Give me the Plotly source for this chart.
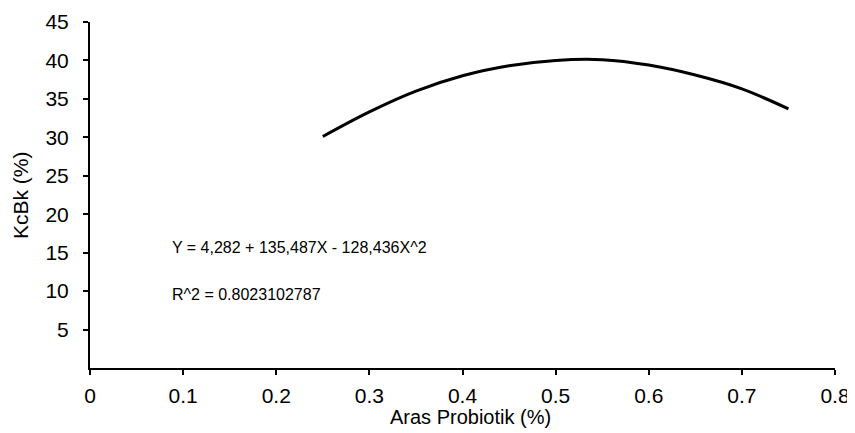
import plotly.graph_objects as go

# Values (fitted quadratic curve)
aras = [0.25, 0.30, 0.35, 0.40, 0.45, 0.50, 0.55, 0.60, 0.65, 0.70, 0.75]
kcbk = [30.1, 33.3, 36.0, 38.0, 39.3, 40.0, 40.1, 39.4, 38.1, 36.3, 33.7]

x_ticks = [0, 0.1, 0.2, 0.3, 0.4, 0.5, 0.6, 0.7, 0.8]
x_tick_labels = ["0", "0.1", "0.2", "0.3", "0.4", "0.5", "0.6", "0.7", "0.8"]
y_ticks = [5, 10, 15, 20, 25, 30, 35, 40, 45]
y_tick_labels = ["5", "10", "15", "20", "25", "30", "35", "40", "45"]

x_title = "Aras Probiotik (%)"
y_title = "KcBk (%)"
eq_text = "Y = 4,282 + 135,487X - 128,436X^2"
r2_text = "R^2 = 0.8023102787"

font_family = "Liberation Sans, Arial, sans-serif"

fig = go.Figure()
fig.add_trace(go.Scatter(
    x=aras, y=kcbk, mode="lines",
    line=dict(color="black", width=3, shape="spline"),
    showlegend=False, hoverinfo="skip",
))

fig.add_annotation(x=0.086, y=15.7, xref="x", yref="y", text=eq_text,
                   showarrow=False, xanchor="left", yanchor="middle",
                   font=dict(family=font_family, size=16, color="black"))
fig.add_annotation(x=0.086, y=9.6, xref="x", yref="y", text=r2_text,
                   showarrow=False, xanchor="left", yanchor="middle",
                   font=dict(family=font_family, size=16, color="black"))

# axis titles placed as annotations to sit as close as in the reference
fig.add_annotation(x=0.409, y=0, xref="x", yref="paper", yshift=-49,
                   text=x_title, showarrow=False, xanchor="center", yanchor="middle",
                   font=dict(family=font_family, size=20, color="black"))
fig.add_annotation(x=0, y=0.5, xref="paper", yref="paper", xshift=-70,
                   text=y_title, textangle=-90, showarrow=False,
                   xanchor="center", yanchor="middle",
                   font=dict(family=font_family, size=21, color="black"))

# page body has an 8px margin, so the figure is sized 8px smaller and shifted
fig.update_layout(
    width=847, height=425,
    margin=dict(l=82, r=20, t=14, b=65, autoexpand=False),
    paper_bgcolor="white", plot_bgcolor="white",
    font=dict(family=font_family, color="black"),
    xaxis=dict(
        range=[0, 0.8], tickmode="array", tickvals=x_ticks, ticktext=x_tick_labels,
        showgrid=False, zeroline=False, showline=True, linecolor="black", linewidth=2,
        ticks="outside", ticklen=5, tickwidth=1.5, tickcolor="black",
        ticklabelstandoff=3, automargin=False,
        tickfont=dict(size=21),
    ),
    yaxis=dict(
        range=[0, 45], tickmode="array", tickvals=y_ticks, ticktext=y_tick_labels,
        showgrid=False, zeroline=False, showline=True, linecolor="black", linewidth=2,
        ticks="outside", ticklen=5, tickwidth=1.5, tickcolor="black",
        ticklabelstandoff=10, automargin=False,
        tickfont=dict(size=21),
    ),
)

fig.write_html("out.html")
